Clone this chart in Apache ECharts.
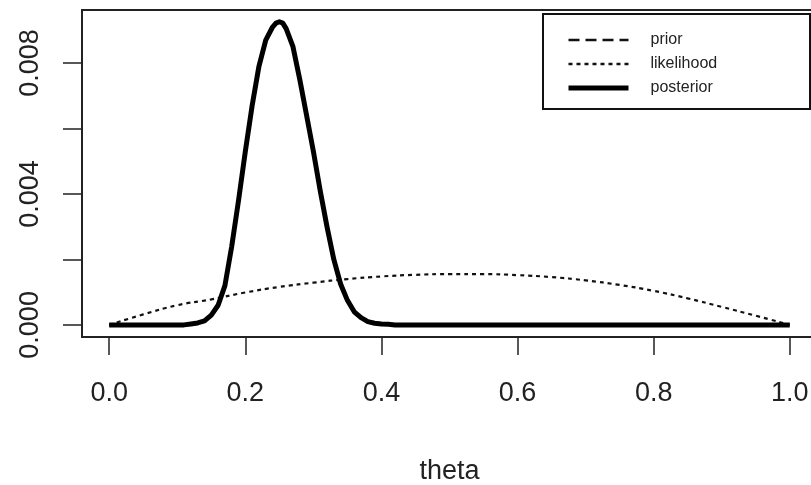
<!DOCTYPE html>
<html>
<head>
<meta charset="utf-8">
<script src="https://cdn.jsdelivr.net/npm/echarts@6/dist/echarts.min.js"></script>
<style>
html,body{margin:0;padding:0;background:#fff;}
#chart{width:811px;height:485px;}
</style>
</head>
<body>
<div id="chart"></div>
<script>
// ---- data ----
const xTicks = [0, 0.2, 0.4, 0.6, 0.8, 1.0];
const yTicks = [0, 0.002, 0.004, 0.006, 0.008];
const yTickLabels = [0, 0.004, 0.008];
const seriesNames = ['prior', 'likelihood', 'posterior'];

const postTheta = [0, 0.11, 0.12, 0.13, 0.14, 0.15, 0.16, 0.17, 0.18, 0.19, 0.20, 0.21, 0.22, 0.23, 0.24, 0.245, 0.25,
  0.255, 0.26, 0.27, 0.28, 0.29, 0.30, 0.31, 0.32, 0.33, 0.34, 0.35, 0.36, 0.37, 0.38, 0.39, 0.40, 0.41, 0.42, 1.0];
const posterior = [0, 0, 0.00003, 0.00006, 0.00012, 0.00030, 0.00060, 0.00120, 0.00240, 0.00380, 0.00530, 0.00670,
  0.00790, 0.00870, 0.00910, 0.00922, 0.00926, 0.00922, 0.00905, 0.00850, 0.00750, 0.00640, 0.00530, 0.00410,
  0.00300, 0.00200, 0.00125, 0.00075, 0.00040, 0.00022, 0.00010, 0.00005, 0.00003, 0.00002, 0, 0];
const prior = [0, 0, 0.00003, 0.00006, 0.00012, 0.00030, 0.00060, 0.00120, 0.00240, 0.00380, 0.00530, 0.00670,
  0.00790, 0.00870, 0.00910, 0.00922, 0.00926, 0.00922, 0.00905, 0.00850, 0.00750, 0.00640, 0.00530, 0.00410,
  0.00300, 0.00200, 0.00125, 0.00075, 0.00040, 0.00022, 0.00010, 0.00005, 0.00003, 0.00002, 0, 0];

const likeTheta = [0, 0.05, 0.10, 0.15, 0.20, 0.25, 0.30, 0.35, 0.40, 0.45, 0.50, 0.55, 0.60, 0.65, 0.70, 0.75,
  0.80, 0.85, 0.90, 0.95, 1.0];
const likelihood = [0, 0.00032, 0.00060, 0.00078, 0.00099, 0.00116, 0.00129, 0.00140, 0.00148, 0.00153, 0.00155,
  0.00155, 0.00152, 0.00146, 0.00136, 0.00122, 0.00104, 0.00081, 0.00055, 0.00028, 0];

const pairs = (xs, ys) => xs.map((x, i) => [x, ys[i]]);

const FONT = "'Liberation Sans', Arial, sans-serif";
const chart = echarts.init(document.getElementById('chart'), null, {renderer: 'canvas'});

chart.setOption({
  animation: false,
  backgroundColor: '#ffffff',
  textStyle: {fontFamily: FONT, color: '#111'},
  grid: {
    left: 82, top: 10, right: -6, bottom: 148,
    outerBoundsMode: 'none', containLabel: false,
    show: true, borderColor: '#222', borderWidth: 2, backgroundColor: 'transparent'
  },
  xAxis: {
    type: 'value', min: -0.04, max: 1.04,
    name: 'theta', nameLocation: 'middle', nameGap: 121,
    nameTextStyle: {fontSize: 27, fontFamily: FONT, color: '#222'},
    axisLine: {show: false, onZero: false},
    splitLine: {show: false},
    axisTick: {show: true, inside: false, length: 18, customValues: xTicks,
      lineStyle: {color: '#222', width: 1.5}},
    axisLabel: {show: true, customValues: xTicks, margin: 43, fontSize: 27, fontFamily: FONT, color: '#222',
      formatter: v => Number(v).toFixed(1)}
  },
  yAxis: {
    type: 'value', min: -0.00037, max: 0.00962,
    axisLine: {show: false, onZero: false},
    splitLine: {show: false},
    axisTick: {show: true, inside: false, length: 19, customValues: yTicks,
      lineStyle: {color: '#222', width: 1.5}},
    axisLabel: {show: true, customValues: yTickLabels, rotate: 90, margin: 38, fontSize: 27, fontFamily: FONT,
      color: '#222', formatter: v => Number(v).toFixed(3)}
  },
  legend: {
    data: [
      {name: seriesNames[0], lineStyle: {width: 2.5, type: [11, 6]}},
      {name: seriesNames[1], lineStyle: {width: 2.5, type: [4, 4]}},
      {name: seriesNames[2], lineStyle: {width: 5}}
    ],
    orient: 'vertical', left: 566, top: 32, padding: 0,
    itemWidth: 60, itemHeight: 14, itemGap: 8,
    itemStyle: {opacity: 0},
    textStyle: {fontSize: 16, fontFamily: FONT, color: '#222', padding: [3, 0, 0, 17]}
  },
  graphic: [{
    type: 'rect', left: 542, top: 13, z: -1,
    shape: {width: 267, height: 95},
    style: {fill: '#fff', stroke: '#111', lineWidth: 2}
  }],
  series: [
    {name: 'prior', type: 'line', data: pairs(postTheta, prior), symbol: 'none', smooth: false, clip: false,
      lineStyle: {color: '#111', width: 2, type: [10, 6]}, itemStyle: {color: '#111'}, z: 2},
    {name: 'likelihood', type: 'line', data: pairs(likeTheta, likelihood), symbol: 'none', smooth: true, clip: false,
      lineStyle: {color: '#111', width: 2.2, type: [4, 4]}, itemStyle: {color: '#111'}, z: 3},
    {name: 'posterior', type: 'line', data: pairs(postTheta, posterior), symbol: 'none', smooth: false, clip: false,
      lineStyle: {color: '#000', width: 5, join: 'round'}, itemStyle: {color: '#000'}, z: 4}
  ]
});
</script>
</body>
</html>
